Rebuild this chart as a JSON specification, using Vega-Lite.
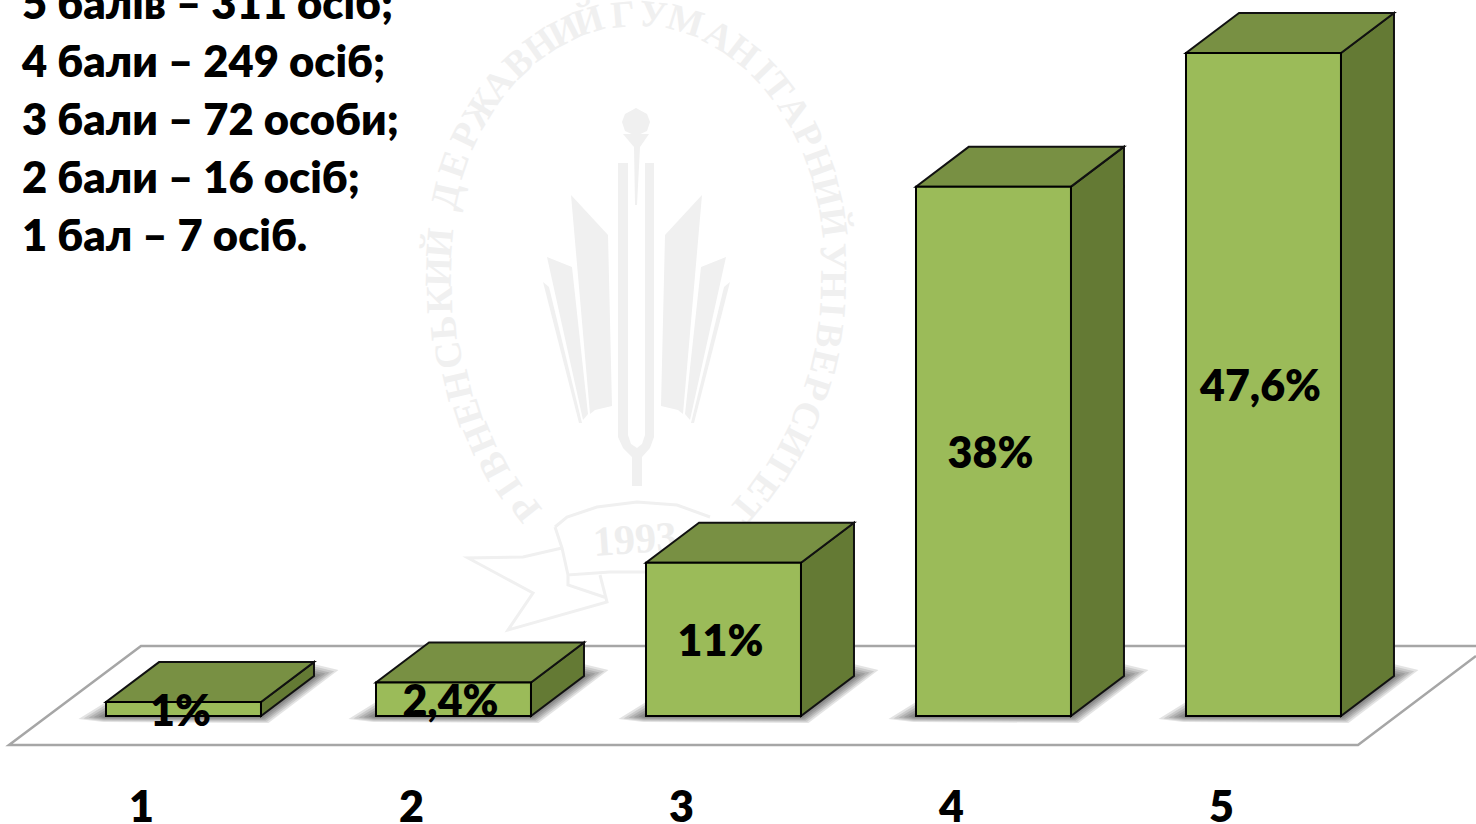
{
"$schema":"https://vega.github.io/schema/vega-lite/v6.json",
"width":1476,"height":824,"padding":0,
"autosize":"none",
"background":"white",
"config":{"view":{"stroke":null},"axis":{"disable":true},"legend":{"disable":true},"text":{"font":"Lato","fontWeight":800}},
"resolve":{"scale":{"x":"independent","y":"independent"}},
"datasets":{
"bars":[{"score":1,"pct":1,"label":"1%"},{"score":2,"pct":2.4,"label":"2,4%"},{"score":3,"pct":11,"label":"11%"},{"score":4,"pct":38,"label":"38%"},{"score":5,"pct":47.6,"label":"47,6%"}],
"counts":[{"score":5,"line":"5 балів – 311 осіб;"},{"score":4,"line":"4 бали – 249 осіб;"},{"score":3,"line":"3 бали – 72 особи;"},{"score":2,"line":"2 бали – 16 осіб;"},{"score":1,"line":"1 бал – 7 осіб."}],
"seal":[{"ch":"Р","x":527,"y":507,"a":-128},{"ch":"І","x":510,"y":487,"a":-124},{"ch":"В","x":495,"y":465,"a":-118},{"ch":"Н","x":481,"y":438,"a":-113},{"ch":"Е","x":469,"y":412,"a":-108},{"ch":"Н","x":459,"y":385,"a":-103},{"ch":"С","x":450,"y":355,"a":-98},{"ch":"Ь","x":445,"y":328,"a":-94},{"ch":"К","x":441,"y":300,"a":-91},{"ch":"И","x":440,"y":272,"a":-88},{"ch":"Й","x":441,"y":243,"a":-85},
{"ch":"Д","x":447,"y":196,"a":-77},{"ch":"Е","x":455,"y":165,"a":-71},{"ch":"Р","x":467,"y":136,"a":-64},{"ch":"Ж","x":482,"y":109,"a":-58},{"ch":"А","x":499,"y":85,"a":-51},{"ch":"В","x":519,"y":64,"a":-43},{"ch":"Н","x":541,"y":46,"a":-35},{"ch":"И","x":565,"y":32,"a":-27},{"ch":"Й","x":589,"y":22,"a":-17},
{"ch":"Г","x":623,"y":16,"a":-5},{"ch":"У","x":653,"y":16,"a":6},{"ch":"М","x":685,"y":22,"a":17},{"ch":"А","x":718,"y":37,"a":29},{"ch":"Н","x":742,"y":53,"a":38},{"ch":"І","x":763,"y":72,"a":46},{"ch":"Т","x":777,"y":88,"a":52},{"ch":"А","x":793,"y":111,"a":58},{"ch":"Р","x":807,"y":136,"a":64},{"ch":"Н","x":818,"y":163,"a":70},{"ch":"И","x":826,"y":192,"a":76},{"ch":"Й","x":832,"y":222,"a":82},
{"ch":"У","x":832,"y":257,"a":88},{"ch":"Н","x":832,"y":285,"a":91},{"ch":"І","x":831,"y":310,"a":94},{"ch":"В","x":828,"y":335,"a":98},{"ch":"Е","x":823,"y":362,"a":103},{"ch":"Р","x":815,"y":388,"a":108},{"ch":"С","x":805,"y":415,"a":112},{"ch":"И","x":793,"y":442,"a":117},{"ch":"Т","x":779,"y":465,"a":121},{"ch":"Е","x":762,"y":487,"a":126},{"ch":"Т","x":744,"y":507,"a":130}]
},
"layer":[
{"data":{"name":"seal"},"mark":{"type":"text","font":"Liberation Serif","fontWeight":"bold","fontSize":38,"color":"#f0f0f0","align":"center","baseline":"middle"},
"encoding":{"x":{"field":"x","type":"quantitative","scale":{"domain":[0,1476],"nice":false,"zero":false}},"y":{"field":"y","type":"quantitative","scale":{"domain":[824,0],"nice":false,"zero":false}},"text":{"field":"ch"},"angle":{"field":"a","type":"quantitative","scale":null}}},
{"data":{"values":[{"x":637,"y":300}]},"mark":{"type":"point","filled":true,"size":40000,"opacity":1,"color":"#f0f0f0",
"shape":"M-.15 -1.78L-.12 -1.86L-.01 -1.92L.1 -1.86L.13 -1.78L.1 -1.69L-.01 -1.64L-.12 -1.69ZM-.14 -1.66L.12 -1.66L.03 -1.53L0 -.95L-.02 -.95L-.03 -1.53ZM-.19 -1.37L-.09 -1.37L-.09 1.35L-.06 1.44L0 1.48L.05 1.44L.08 1.35L.08 -1.37L.17 -1.37L.17 1.37L.13 1.48L.05 1.57L.05 1.86L-.05 1.86L-.05 1.57L-.14 1.48L-.19 1.37ZM-.66 -1.05L-.29 -.65L-.25 1.06L-.42 1.1L-.47 1.14ZM-.9 -.43L-.65 -.33L-.49 1.14L-.54 1.2ZM-.94 -.18L-.88 -.13L-.55 1.23L-.58 1.23ZM.65 -1.05L.28 -.65L.24 1.06L.41 1.1L.46 1.14ZM.89 -.43L.64 -.33L.48 1.14L.53 1.2ZM.93 -.18L.87 -.13L.54 1.23L.57 1.23Z"},
"encoding":{"x":{"field":"x","type":"quantitative","scale":{"domain":[0,1476],"nice":false,"zero":false}},"y":{"field":"y","type":"quantitative","scale":{"domain":[824,0],"nice":false,"zero":false}}}},
{"data":{"values":[{"x":637,"y":300}]},"mark":{"type":"point","filled":false,"size":40000,"opacity":1,"stroke":"#f0f0f0","strokeWidth":3,
"shape":"M-.82 2.27L-.7 2.17L-.4 2.07L0 2.02L.4 2.05L.73 2.17M-.82 2.27L-.75 2.48L-.69 2.75L-.27 2.72L.13 2.72M-.75 2.48L-1.14 2.57L-1.69 2.58L-1.04 2.93L-1.29 3.3L-.3 3.02L-.37 2.75M-.69 2.75L-.69 2.85L-.3 2.98"},
"encoding":{"x":{"field":"x","type":"quantitative","scale":{"domain":[0,1476],"nice":false,"zero":false}},"y":{"field":"y","type":"quantitative","scale":{"domain":[824,0],"nice":false,"zero":false}}}},
{"data":{"values":[{"x":635,"y":540,"t":"1993"}]},"mark":{"type":"text","font":"Liberation Serif","fontWeight":"bold","fontSize":42,"color":"#eeeeee","align":"center","baseline":"middle","angle":-4},
"encoding":{"x":{"field":"x","type":"quantitative","scale":{"domain":[0,1476],"nice":false,"zero":false}},"y":{"field":"y","type":"quantitative","scale":{"domain":[824,0],"nice":false,"zero":false}},"text":{"field":"t"}}},
{"data":{"values":[{"x":737,"y":700}]},"mark":{"type":"point","filled":false,"size":40000,"opacity":1,"stroke":"#a6a6a6","strokeWidth":2.5,
"shape":"M7.39 -.54L-5.96 -.54L-7.28 .45L6.21 .45L7.39 -.44"},
"encoding":{"x":{"field":"x","type":"quantitative","scale":{"domain":[0,1476],"nice":false,"zero":false}},"y":{"field":"y","type":"quantitative","scale":{"domain":[824,0],"nice":false,"zero":false}}}},
{"data":{"name":"bars"},
"encoding":{"x":{"field":"score","type":"quantitative","scale":{"domain":[0.3204,5.7871],"nice":false,"zero":false}},"y":{"datum":0,"type":"quantitative","scale":{"domain":[-7.753,51.4],"nice":false,"zero":false}}},
"layer":[
{"mark":{"type":"point","filled":true,"size":40000,"opacity":0.11,"color":"#000000","shape":"M-1.05 .03L-.775 -.14L1.3 -.52L1.55 -.46L.85 .07L-.8 .06Z"}},
{"mark":{"type":"point","filled":true,"size":40000,"opacity":0.11,"color":"#000000","shape":"M-1 .024L-.775 -.114L1.3 -.498L1.506 -.448L.836 .058L-.8 .05Z"}},
{"mark":{"type":"point","filled":true,"size":40000,"opacity":0.11,"color":"#000000","shape":"M-.95 .018L-.775 -.088L1.3 -.476L1.462 -.436L.822 .046L-.8 .04Z"}},
{"mark":{"type":"point","filled":true,"size":40000,"opacity":0.11,"color":"#000000","shape":"M-.9 .012L-.775 -.062L1.3 -.454L1.418 -.424L.808 .034L-.8 .03Z"}},
{"mark":{"type":"point","filled":true,"size":40000,"opacity":0.11,"color":"#000000","shape":"M-.85 .006L-.775 -.036L1.3 -.432L1.374 -.412L.794 .022L-.8 .02Z"}},
{"mark":{"type":"point","filled":true,"size":40000,"opacity":0.11,"color":"#000000","shape":"M-.8 0L-.775 -.01L1.3 -.41L1.33 -.4L.78 .01L-.78 .01Z"}}
],"resolve":{"scale":{"x":"shared","y":"shared"}}},
{"data":{"name":"bars"},"transform":[{"calculate":"[0,1]","as":"t"},{"flatten":["t"]},{"calculate":"datum.score+0.287+datum.t*0.1963","as":"sx"},{"calculate":"datum.pct+datum.t*2.871","as":"sy"},{"calculate":"datum.t*2.871","as":"sy2"}],
"mark":{"type":"area","orient":"vertical","color":"#647A34","stroke":"#111111","strokeWidth":2,"opacity":1},
"encoding":{"x":{"field":"sx","type":"quantitative","scale":{"domain":[0.3204,5.7871],"nice":false,"zero":false}},"y":{"field":"sy","type":"quantitative","scale":{"domain":[-7.753,51.4],"nice":false,"zero":false}},"y2":{"field":"sy2"},"detail":{"field":"score"}}},
{"data":{"name":"bars"},"transform":[{"calculate":"[0,1]","as":"t"},{"flatten":["t"]},{"calculate":"datum.score-0.287+datum.t*0.1963","as":"tx"},{"calculate":"datum.score+0.287+datum.t*0.1963","as":"tx2"},{"calculate":"datum.pct+datum.t*2.871","as":"ty"}],
"mark":{"type":"area","orient":"horizontal","color":"#789043","stroke":"#111111","strokeWidth":2,"opacity":1},
"encoding":{"y":{"field":"ty","type":"quantitative","scale":{"domain":[-7.753,51.4],"nice":false,"zero":false}},"x":{"field":"tx","type":"quantitative","scale":{"domain":[0.3204,5.7871],"nice":false,"zero":false}},"x2":{"field":"tx2"},"detail":{"field":"score"}}},
{"data":{"name":"bars"},"transform":[{"calculate":"datum.score-0.287","as":"fx"},{"calculate":"datum.score+0.287","as":"fx2"}],"mark":{"type":"rect","color":"#9BBB59","stroke":"#000000","strokeWidth":2,"opacity":1},
"encoding":{"x":{"field":"fx","type":"quantitative","scale":{"domain":[0.3204,5.7871],"nice":false,"zero":false}},"x2":{"field":"fx2"},"y":{"field":"pct","type":"quantitative","scale":{"domain":[-7.753,51.4],"nice":false,"zero":false}},"y2":{"datum":0}}},
{"data":{"name":"bars"},"transform":[{"calculate":"datum.pct/2","as":"mid"}],"mark":{"type":"text","fontSize":43,"color":"#000000","align":"center","baseline":"middle","dx":-3,"dy":4},
"encoding":{"x":{"field":"score","type":"quantitative","scale":{"domain":[0.3204,5.7871],"nice":false,"zero":false}},"y":{"field":"mid","type":"quantitative","scale":{"domain":[-7.753,51.4],"nice":false,"zero":false}},"text":{"field":"label"}}},
{"data":{"name":"bars"},"mark":{"type":"text","fontSize":43,"color":"#000000","align":"center","baseline":"middle","dx":-42,"dy":3},
"encoding":{"x":{"field":"score","type":"quantitative","scale":{"domain":[0.3204,5.7871],"nice":false,"zero":false}},"y":{"datum":-6.46,"type":"quantitative","scale":{"domain":[-7.753,51.4],"nice":false,"zero":false}},"text":{"field":"score","type":"nominal"}}},
{"data":{"name":"counts"},"mark":{"type":"text","fontSize":43.5,"color":"#000000","align":"left","baseline":"middle","dy":2},
"encoding":{"x":{"value":22},"y":{"field":"score","type":"quantitative","scale":{"domain":[-9.138,5.069],"nice":false,"zero":false}},"text":{"field":"line"}}}
]
}
